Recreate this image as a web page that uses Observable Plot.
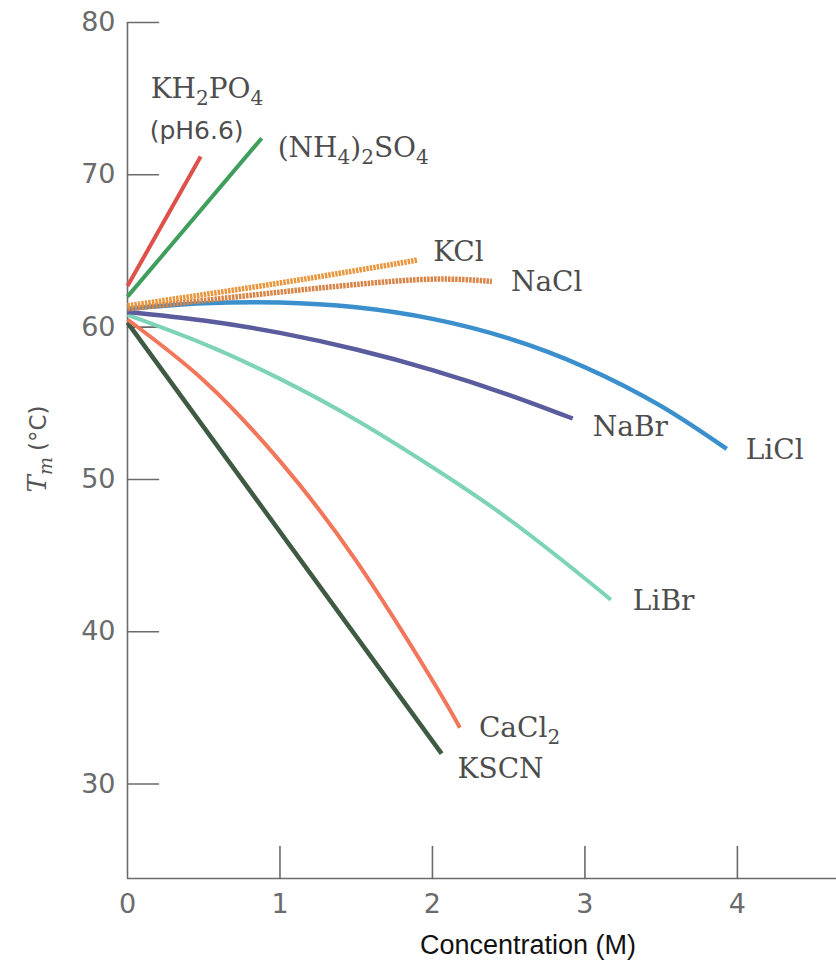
<!DOCTYPE html>
<html>
<head>
<meta charset="utf-8">
<script src="https://cdn.jsdelivr.net/npm/d3@7"></script>
<script src="https://cdn.jsdelivr.net/npm/@observablehq/plot@0.6"></script>
<style>
  body { margin: 0; background: #fff; }
  #chart { width: 836px; height: 978px; }
</style>
</head>
<body>
<div id="chart"></div>
<script>
// ---- data ----
const salts = ["KSCN", "CaCl₂", "LiBr", "NaBr", "LiCl", "NaCl", "KCl", "(NH₄)₂SO₄", "KH₂PO₄"];

const kh2po4Conc = [0, 0.48];
const kh2po4Tm   = [62.7, 71.2];

const nh4so4Conc = [0, 0.88];
const nh4so4Tm   = [62.0, 72.4];

const kclConc = [0, 1.0, 1.9];
const kclTm   = [61.4, 62.9, 64.4];

const naclConc = [0, 0.5, 1.0, 1.5, 2.0, 2.39];
const naclTm   = [61.2, 61.75, 62.3, 62.8, 63.15, 63.0];

const liclConc = [0, 0.5, 1.0, 1.5, 2.0, 2.5, 3.0, 3.5, 3.93];
const liclTm   = [61.2, 61.56, 61.62, 61.3, 60.54, 59.26, 57.37, 54.81, 52.0];

const nabrConc = [0, 0.5, 1.0, 1.5, 2.0, 2.5, 2.92];
const nabrTm   = [61.0, 60.44, 59.62, 58.53, 57.18, 55.56, 54.0];

const librConc = [0, 0.5, 1.0, 1.5, 2.0, 2.5, 3.0, 3.17];
const librTm   = [60.8, 58.9, 56.6, 53.9, 50.8, 47.4, 43.5, 42.1];

const cacl2Conc = [0, 0.5, 1.0, 1.5, 2.0, 2.18];
const cacl2Tm   = [60.5, 56.5, 51.2, 44.65, 36.8, 33.7];

const kscnConc = [0, 2.06];
const kscnTm   = [60.3, 32.0];

const xTicks = [0, 1, 2, 3, 4];
const yTicks = [30, 40, 50, 60, 70, 80];
const xDomain = [0, 4.65];
const yDomain = [23.8, 80];

const xTitle = "Concentration (M)";
const phNote = "(pH6.6)";

// ---- build table ----
const concBySalt = {
  "KH₂PO₄": kh2po4Conc, "(NH₄)₂SO₄": nh4so4Conc, "KCl": kclConc, "NaCl": naclConc,
  "LiCl": liclConc, "NaBr": nabrConc, "LiBr": librConc, "CaCl₂": cacl2Conc, "KSCN": kscnConc
};
const tmBySalt = {
  "KH₂PO₄": kh2po4Tm, "(NH₄)₂SO₄": nh4so4Tm, "KCl": kclTm, "NaCl": naclTm,
  "LiCl": liclTm, "NaBr": nabrTm, "LiBr": librTm, "CaCl₂": cacl2Tm, "KSCN": kscnTm
};
const rows = salts.flatMap(s => concBySalt[s].map((c, i) => ({salt: s, conc: c, tm: tmBySalt[s][i]})));

// ---- styles ----
const style = {
  "KH₂PO₄":    {color: "#e0504a", width: 4, dash: null, dx: -50, dy: -68},
  "(NH₄)₂SO₄": {color: "#3f9e5c", width: 4, dash: null, dx: 16, dy: 10},
  "KCl":       {color: "#e8973f", width: 5.5, dash: "2.5 1", dx: 16, dy: -8},
  "NaCl":      {color: "#d98548", width: 5.5, dash: "2.5 1", dx: 19, dy: 1},
  "LiCl":      {color: "#3a8fcc", width: 4.5, dash: null, dx: 19, dy: 1},
  "NaBr":      {color: "#5a5c9e", width: 4.5, dash: null, dx: 20, dy: 9},
  "LiBr":      {color: "#7cd3b6", width: 4, dash: null, dx: 22, dy: 1},
  "CaCl₂":     {color: "#f2765a", width: 4, dash: null, dx: 19, dy: 0},
  "KSCN":      {color: "#3f5a42", width: 4.5, dash: null, dx: 16, dy: 15}
};

const serif = "'DejaVu Serif', serif";
const sans = "'Liberation Sans', Arial, sans-serif";
const wideSans = "'DejaVu Sans', sans-serif";
const axisColor = "#6b6b6b";

const tickShape = {draw(context, l) { context.moveTo(0, 0); context.lineTo(0, -l); }};

const marks = [
  // axis lines
  Plot.ruleX([xDomain[0]], {stroke: axisColor, strokeWidth: 1.6}),
  Plot.ruleY([yDomain[0]], {stroke: axisColor, strokeWidth: 1.6}),
  // inward ticks
  Plot.vector(yTicks, {y: d => d, frameAnchor: "left", rotate: 90, length: 31, anchor: "start",
    shape: tickShape, stroke: axisColor, strokeWidth: 1.6}),
  Plot.vector(xTicks.filter(d => d > 0), {x: d => d, frameAnchor: "bottom", rotate: 0, length: 32, anchor: "start",
    shape: tickShape, stroke: axisColor, strokeWidth: 1.6}),
  // tick labels
  Plot.axisX(xTicks, {tickSize: 0, tickPadding: 15, fontSize: 27, fontFamily: wideSans, fill: axisColor,
    label: null, tickFormat: d => String(d)}),
  Plot.axisY(yTicks, {tickSize: 0, tickPadding: 12, fontSize: 27, fontFamily: wideSans, fill: axisColor,
    label: null, tickFormat: d => String(d)}),
  // x title
  Plot.text([xTitle], {frameAnchor: "bottom", text: d => d, dx: 46, dy: 75, fontSize: 27,
    fontFamily: sans, fill: "#111"})
];

for (const s of salts) {
  const st = style[s];
  marks.push(Plot.line(rows.filter(r => r.salt === s), {
    x: "conc", y: "tm", stroke: st.color, strokeWidth: st.width,
    strokeDasharray: st.dash, curve: "natural", strokeLinecap: "butt"
  }));
}
for (const s of salts) {
  const st = style[s];
  const pts = rows.filter(r => r.salt === s);
  const end = pts[pts.length - 1];
  marks.push(Plot.text([end], {
    x: "conc", y: "tm", text: () => s, dx: st.dx, dy: st.dy,
    textAnchor: "start", fontSize: 28, fontFamily: serif, fill: "#4d4d4d"
  }));
}
// pH note under KH2PO4
{
  const pts = rows.filter(r => r.salt === "KH₂PO₄");
  const end = pts[pts.length - 1];
  marks.push(Plot.text([end], {
    x: "conc", y: "tm", text: () => phNote, dx: -51, dy: -26,
    textAnchor: "start", fontSize: 25, fontFamily: wideSans, fill: "#4d4d4d"
  }));
}

const plot = Plot.plot({
  width: 836,
  height: 978,
  marginLeft: 127,
  marginRight: 0,
  marginTop: 22,
  marginBottom: 100,
  style: {fontFamily: sans, background: "#fff"},
  x: {domain: xDomain, axis: null},
  y: {domain: yDomain, axis: null},
  marks
});

const svg = d3.select(plot);

// render Unicode subscript digits as real lowered, smaller tspans
const subMap = {"₀":"0","₁":"1","₂":"2","₃":"3","₄":"4","₅":"5","₆":"6","₇":"7","₈":"8","₉":"9"};
svg.selectAll("text").each(function () {
  const txt = this.textContent;
  if (!/[₀-₉]/.test(txt)) return;
  while (this.firstChild) this.removeChild(this.firstChild);
  let shifted = false;
  for (const run of txt.match(/[₀-₉]+|[^₀-₉]+/g)) {
    const ts = document.createElementNS("http://www.w3.org/2000/svg", "tspan");
    if (/[₀-₉]/.test(run)) {
      ts.textContent = [...run].map(c => subMap[c]).join("");
      ts.setAttribute("font-size", "20");
      if (!shifted) ts.setAttribute("dy", "7");
      shifted = true;
    } else {
      ts.textContent = run;
      if (shifted) ts.setAttribute("dy", "-7");
      shifted = false;
    }
    this.appendChild(ts);
  }
});

// y-axis title with mixed styling: italic T with subscript m, then (°C)
const t = svg.append("text")
  .attr("transform", "translate(46,449) rotate(-90)")
  .attr("text-anchor", "middle")
  .attr("fill", "#555");
t.append("tspan").attr("font-family", serif).attr("font-style", "italic").attr("font-size", 26).text("T");
t.append("tspan").attr("font-family", serif).attr("font-style", "italic").attr("font-size", 19).attr("dy", 6).text("m");
t.append("tspan").attr("font-family", wideSans).attr("font-size", 23).attr("dy", -6).attr("dx", 6).text("(°C)");

document.getElementById("chart").appendChild(plot);
</script>
</body>
</html>
